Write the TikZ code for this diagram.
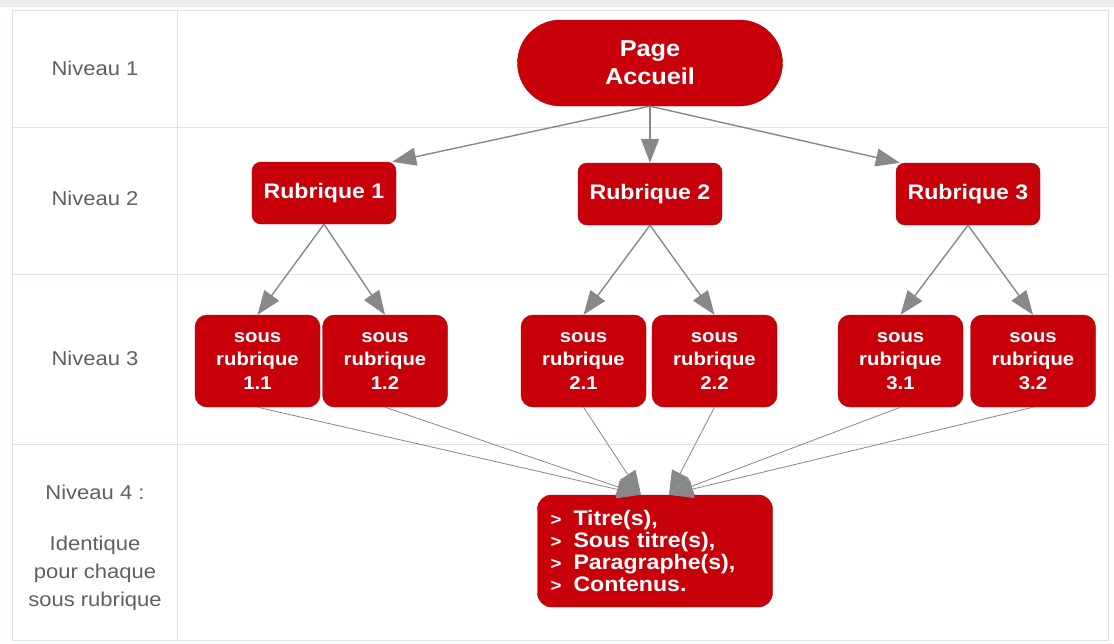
\documentclass[tikz,border=0pt]{standalone}
\usepackage{fontspec}
\setmainfont{Liberation Sans}[FakeStretch=1.1]
\usetikzlibrary{arrows.meta,calc}
\definecolor{boxred}{HTML}{C8000A}
\definecolor{boxedge}{HTML}{A30008}
\definecolor{gridgray}{HTML}{DCE2EA}
\definecolor{labelgray}{HTML}{606060}
\definecolor{arrowgray}{HTML}{888888}
\newcommand{\puce}{\makebox[23pt][l]{\fontsize{17}{17}\selectfont >}}

\begin{document}
\begin{tikzpicture}[x=1pt, y=-1pt,
    box/.style={draw=boxedge, fill=boxred, text=white, align=center, inner sep=0pt,
      rounded corners=9pt, font=\bfseries\fontsize{21}{24}\selectfont},
    rubbox/.style={box, minimum width=144pt, minimum height=62pt},
    sousbox/.style={box, minimum width=125pt, minimum height=92pt, rounded corners=12pt,
      font=\bfseries\fontsize{18.5}{23.5}\selectfont},
    niveau/.style={text=labelgray, align=center, font=\fontsize{20}{28}\selectfont},
    arrow/.style={-{Triangle[length=24pt,width=18pt]}, draw=arrowgray, line width=1.4pt},
    thin arrow/.style={arrow, line width=0.8pt}
]
% page and table
\fill[white] (0,0) rectangle (1114,643);
\fill[gray!15] (0,0) rectangle (1114,7);
\draw[gridgray, line width=1pt] (12,10) rectangle (1108,640);
\draw[gridgray, line width=1pt] (177,10) -- (177,640);
\foreach \y in {127,274,444}
  \draw[gridgray, line width=1pt] (12,\y) -- (1108,\y);

% level labels
\node[niveau] (niv1) at (95,68) {Niveau 1};
\node[niveau] (niv2) at (95,198) {Niveau 2};
\node[niveau] (niv3) at (95,358) {Niveau 3};
\node[niveau] (niv4) at (95,492) {Niveau 4 :};
\node[niveau] (niv4txt) at (95,573) {Identique\\pour chaque\\sous rubrique};

% boxes
\node[box, minimum width=265pt, minimum height=86pt, rounded corners=43pt,
  font=\bfseries\fontsize{23}{28}\selectfont] (accueil) at (650,63) {Page\\Accueil};
\node[rubbox] (rub1) at (324,193) {Rubrique 1};
\node[rubbox] (rub2) at (650,194) {Rubrique 2};
\node[rubbox] (rub3) at (968,194) {Rubrique 3};
\node[sousbox] (s11) at (257.5,361) {sous\\rubrique\\1.1};
\node[sousbox] (s12) at (385,361) {sous\\rubrique\\1.2};
\node[sousbox] (s21) at (583.5,361) {sous\\rubrique\\2.1};
\node[sousbox] (s22) at (714.5,361) {sous\\rubrique\\2.2};
\node[sousbox] (s31) at (900.5,361) {sous\\rubrique\\3.1};
\node[sousbox] (s32) at (1033,361) {sous\\rubrique\\3.2};
\node[box, align=left, text width=209pt, minimum width=235pt, minimum height=112pt,
  rounded corners=14pt, font=\bfseries\fontsize{21}{21.7}\selectfont] (contenu) at (655,551)
  {\puce Titre(s),\\ \puce Sous titre(s),\\ \puce Paragraphe(s),\\ \puce Contenus.};

% connectors
\draw[arrow] (accueil.south) -- ($(rub1.north east)+(-4,0)$);
\draw[arrow] (accueil.south) -- (rub2.north);
\draw[arrow] (accueil.south) -- ($(rub3.north west)+(4,0)$);
\foreach \r/\a/\b in {rub1/s11/s12, rub2/s21/s22, rub3/s31/s32} {
  \draw[arrow] (\r.south) -- (\a.north);
  \draw[arrow] (\r.south) -- (\b.north);
}
\coordinate (cl) at ($(contenu.north)+(-14,0)$);
\coordinate (cr) at ($(contenu.north)+(14,0)$);
\foreach \s in {s11,s12,s21}
  \draw[thin arrow] (\s.south) -- (cl);
\foreach \s in {s22,s31,s32}
  \draw[thin arrow] (\s.south) -- (cr);
\end{tikzpicture}
\end{document}
